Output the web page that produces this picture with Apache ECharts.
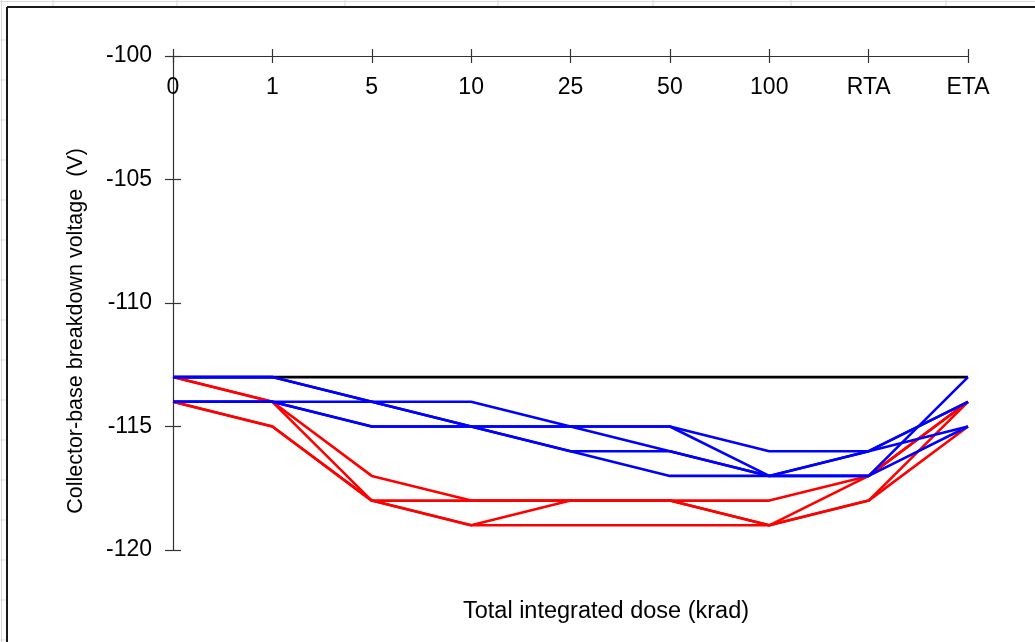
<!DOCTYPE html>
<html>
<head>
<meta charset="utf-8">
<script src="https://cdn.jsdelivr.net/npm/echarts@6/dist/echarts.min.js"></script>
<style>
  html, body { margin: 0; padding: 0; background: #fff; }
  #chart { width: 1035px; height: 642px; }
</style>
</head>
<body>
<div id="chart"></div>
<script>
// Dose steps (krad) plus room-temperature and elevated-temperature anneal
const doseSteps = ['0', '1', '5', '10', '25', '50', '100', 'RTA', 'ETA'];

// Reference level
const refLevel = [-113, -113, -113, -113, -113, -113, -113, -113, -113];

// Devices, red group (V)
const red1 = [-113, -114, -117, -118, -118, -118, -118, -117, -114];
const red2 = [-113, -114, -118, -119, -119, -119, -119, -117, -114];
const red3 = [-114, -115, -118, -119, -118, -118, -119, -118, -115];
const red4 = [-114, -115, -118, -118, -118, -118, -119, -118, -114];

// Devices, blue group (V)
const blue1 = [-114, -114, -114, -114, -115, -116, -117, -116, -114];
const blue2 = [-113, -113, -114, -115, -115, -115, -116, -116, -115];
const blue3 = [-114, -114, -115, -115, -115, -115, -117, -117, -113];
const blue4 = [-113, -113, -114, -115, -116, -116, -117, -116, -114];
const blue5 = [-114, -114, -115, -115, -116, -117, -117, -117, -115];

// Voltage axis
const yMin = -120, yMax = -100, yStep = 5;

const FONT = '"Liberation Sans", Arial, sans-serif';
const chart = echarts.init(document.getElementById('chart'), null, { renderer: 'canvas' });

function line(name, data, color) {
  return {
    name, type: 'line', data,
    xAxisIndex: 0, yAxisIndex: 0,
    symbol: 'none', animation: false,
    lineStyle: { color, width: 2.6 },
    itemStyle: { color }
  };
}

const series = [line('ref', refLevel, '#000000')];
[red1, red2, red3, red4].forEach((d, i) => series.push(line('red' + (i + 1), d, '#ff0000')));
[blue1, blue2, blue3, blue4, blue5].forEach((d, i) => series.push(line('blue' + (i + 1), d, '#0000ff')));

// Sheet cell lines around the chart frame
const gridGrey = '#d9d9d9';
const sheetLines = [];
[53, 177, 345, 498, 653, 791, 946].forEach(x => sheetLines.push({
  type: 'line', shape: { x1: x, y1: 0, x2: x, y2: 6 }, style: { stroke: gridGrey, lineWidth: 1 }, silent: true
}));
sheetLines.push({ type: 'line', shape: { x1: 0, y1: 1.5, x2: 1035, y2: 1.5 }, style: { stroke: gridGrey, lineWidth: 1 }, silent: true });
for (let y = 40; y <= 640; y += 40) {
  sheetLines.push({ type: 'line', shape: { x1: 0, y1: y, x2: 6, y2: y }, style: { stroke: gridGrey, lineWidth: 1 }, silent: true });
}
sheetLines.push({ type: 'line', shape: { x1: 1.5, y1: 0, x2: 1.5, y2: 642 }, style: { stroke: gridGrey, lineWidth: 1 }, silent: true });

const axisColor = '#333333';

chart.setOption({
  backgroundColor: '#ffffff',
  animation: false,
  grid: { left: 173, right: 67, top: 56, bottom: 92, containLabel: false },
  xAxis: [
    {
      type: 'category', data: doseSteps, position: 'top', boundaryGap: false,
      axisLine: { show: true, onZero: false, lineStyle: { color: axisColor, width: 1.2 } },
      axisTick: { show: true, inside: false, length: 7, alignWithLabel: true, lineStyle: { color: axisColor, width: 1.2 } },
      axisLabel: { show: true, inside: true, margin: 20, color: '#000', fontSize: 23, fontFamily: FONT, interval: 0 },
      splitLine: { show: false }
    },
    {
      type: 'category', data: doseSteps, position: 'top', boundaryGap: false,
      axisLine: { show: false },
      axisTick: { show: true, inside: true, length: 7, alignWithLabel: true, lineStyle: { color: axisColor, width: 1.2 } },
      axisLabel: { show: false },
      splitLine: { show: false }
    }
  ],
  yAxis: [
    {
      type: 'value', min: yMin, max: yMax, interval: yStep, position: 'left',
      axisLine: { show: true, onZero: false, lineStyle: { color: axisColor, width: 1.2 } },
      axisTick: { show: true, inside: false, length: 8, lineStyle: { color: axisColor, width: 1.2 } },
      axisLabel: { show: true, margin: 21, color: '#000', fontSize: 23, fontFamily: FONT },
      splitLine: { show: false }
    },
    {
      type: 'value', min: yMin, max: yMax, interval: yStep, position: 'left',
      axisLine: { show: false },
      axisTick: { show: true, inside: true, length: 8, lineStyle: { color: axisColor, width: 1.2 } },
      axisLabel: { show: false },
      splitLine: { show: false }
    }
  ],
  series,
  graphic: [
    ...sheetLines,
    // chart frame
    { type: 'line', shape: { x1: 7, y1: 7, x2: 1035, y2: 7 }, style: { stroke: '#1a1a1a', lineWidth: 2 }, silent: true },
    { type: 'line', shape: { x1: 7, y1: 7, x2: 7, y2: 642 }, style: { stroke: '#1a1a1a', lineWidth: 2 }, silent: true },
    {
      type: 'text', x: 606, y: 612, silent: true,
      style: { text: 'Total integrated dose (krad)', fill: '#000', font: '23.5px ' + FONT, textAlign: 'center', textVerticalAlign: 'middle' }
    },
    {
      type: 'text', x: 76, y: 331, rotation: Math.PI / 2, silent: true,
      style: { text: 'Collector-base breakdown voltage  (V)', fill: '#000', font: '21.5px ' + FONT, textAlign: 'center', textVerticalAlign: 'middle' }
    }
  ]
});
</script>
</body>
</html>
